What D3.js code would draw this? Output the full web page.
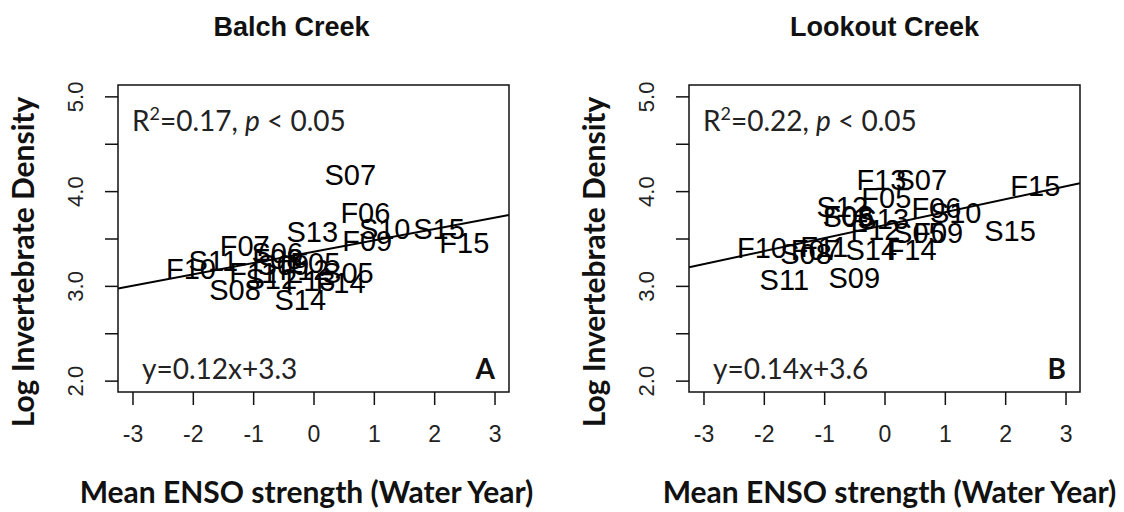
<!DOCTYPE html>
<html>
<head>
<meta charset="utf-8">
<script src="https://cdn.jsdelivr.net/npm/d3@7"></script>
<style>
  body { margin: 0; background: #fff; }
  svg { display: block; }
</style>
</head>
<body>
<div id="chart"></div>
<script>
// sample labels (season + year) and their values
const samples = ['F05','F06','F07','F08','F09','F10','F11','F12','F13','F14','F15',
                 'S05','S06','S07','S08','S09','S10','S11','S12','S13','S14','S15']
const ensoStrength = [0.03, 0.86, -1.14, -0.6, 0.89, -2.03, -1.0, -0.15, -0.05, 0.45, 2.5,
                      0.57, -0.6, 0.61, -1.3, -0.5, 1.18, -1.66, -0.7, -0.02, -0.22, 2.08]
const densityBalch = [3.25, 3.77, 3.43, 3.29, 3.48, 3.18, 3.14, 3.17, 3.06, 3.03, 3.46,
                      3.14, 3.35, 4.18, 2.96, 3.23, 3.60, 3.27, 3.08, 3.57, 2.86, 3.61]
const densityLookout = [3.93, 3.83, 3.38, 3.74, 3.56, 3.40, 3.41, 3.59, 4.12, 3.38, 4.06,
                        3.56, 3.73, 4.12, 3.34, 3.09, 3.77, 3.07, 3.84, 3.71, 3.38, 3.58]

const panelTitles = ['Balch Creek', 'Lookout Creek']
const panelLetters = ['A', 'B']
const fitSlope = [0.12, 0.137]
const fitIntercept = [3.36, 3.64]
const rSquared = ['0.17', '0.22']
const equations = ['y=0.12x+3.3', 'y=0.14x+3.6']

const xTicks = [-3, -2, -1, 0, 1, 2, 3]
const yTicks = [2, 2.5, 3, 3.5, 4, 4.5, 5]
const yTickLabels = ['2.0', '', '3.0', '', '4.0', '', '5.0']

const width = 1124
const height = 512

const svg = d3.select('#chart')
  .append('svg')
  .attr('width', width)
  .attr('height', height)

const arial = 'Arial, "Liberation Sans", sans-serif'
const calibri = 'Lato, "Open Sans", sans-serif'

const panelLeft = [118, 689]
const titleShift = [-22, 0]
const xLabelShift = [-7, 5]
const plotW = 391
const plotTop = 85
const plotBottom = 392

const drawPanel = (p, density) => {
  const x = d3.scaleLinear().domain([-3.24, 3.24]).range([panelLeft[p], panelLeft[p] + plotW])
  const y = d3.scaleLinear().domain([1.88, 5.12]).range([plotBottom, plotTop])
  const g = svg.append('g')

  const clipId = 'clip' + p
  g.append('clipPath').attr('id', clipId)
    .append('rect')
    .attr('x', x.range()[0]).attr('y', plotTop)
    .attr('width', plotW).attr('height', plotBottom - plotTop)

  // x axis
  const xAxis = g.append('g')
    .attr('transform', `translate(0,${plotBottom})`)
    .call(d3.axisBottom(x).tickValues(xTicks).tickSize(13).tickPadding(21).tickFormat(d3.format('d')))
  xAxis.select('.domain').remove()
  xAxis.selectAll('line').attr('stroke', '#111').attr('stroke-width', 1.5)
  xAxis.selectAll('text')
    .attr('font-family', arial).attr('font-size', 23).attr('fill', '#222')
    .text(d => d < 0 ? '-' + Math.abs(d) : d)

  // y axis
  const yAxis = g.append('g')
    .attr('transform', `translate(${x.range()[0]},0)`)
    .call(d3.axisLeft(y).tickValues(yTicks).tickSize(13).tickFormat((d, i) => yTickLabels[i]))
  yAxis.select('.domain').remove()
  yAxis.selectAll('line').attr('stroke', '#111').attr('stroke-width', 1.5)
  yAxis.selectAll('text')
    .attr('font-family', arial).attr('font-size', 22).attr('fill', '#222')
    .attr('text-anchor', 'middle')
    .attr('dy', 0)
    .attr('x', 0).attr('y', 0)
    .attr('transform', 'translate(-43,0) rotate(-90)')
    .attr('dominant-baseline', 'central')

  // fitted line
  g.append('line')
    .attr('clip-path', `url(#${clipId})`)
    .attr('x1', x(-3.24)).attr('y1', y(fitIntercept[p] + fitSlope[p] * -3.24))
    .attr('x2', x(3.24)).attr('y2', y(fitIntercept[p] + fitSlope[p] * 3.24))
    .attr('stroke', '#000').attr('stroke-width', 2)

  // sample labels
  g.append('g')
    .selectAll('text')
    .data(samples)
    .join('text')
    .attr('x', (d, i) => x(ensoStrength[i]))
    .attr('y', (d, i) => y(density[i]))
    .attr('dy', '0.36em')
    .attr('text-anchor', 'middle')
    .attr('font-family', arial)
    .attr('font-size', 29)
    .attr('fill', '#000')
    .text(d => d)

  // frame
  g.append('rect')
    .attr('x', x.range()[0]).attr('y', plotTop)
    .attr('width', plotW).attr('height', plotBottom - plotTop)
    .attr('fill', 'none').attr('stroke', '#111').attr('stroke-width', 1.5)

  // annotations
  const r2 = g.append('text')
    .attr('x', x.range()[0] + 14).attr('y', 131)
    .attr('font-family', calibri).attr('font-size', 28).attr('fill', '#222')
  r2.append('tspan').text('R')
  r2.append('tspan').attr('font-size', 18).attr('dy', -11).text('2')
  r2.append('tspan').attr('dy', 11).text('=' + rSquared[p] + ', ')
  r2.append('tspan').attr('font-style', 'italic').text('p')
  r2.append('tspan').text(' < 0.05')

  g.append('text')
    .attr('x', x.range()[0] + 24).attr('y', 379)
    .attr('font-family', calibri).attr('font-size', 28).attr('fill', '#222')
    .text(equations[p])

  g.append('text')
    .attr('x', x.range()[1] - 14).attr('y', 379)
    .attr('text-anchor', 'end')
    .attr('font-family', calibri).attr('font-size', 28).attr('font-weight', 'bold').attr('fill', '#111')
    .text(panelLetters[p])

  // titles
  g.append('text')
    .attr('x', x(0) + titleShift[p]).attr('y', 36)
    .attr('text-anchor', 'middle')
    .attr('font-family', arial).attr('font-size', 27).attr('font-weight', 'bold').attr('fill', '#111')
    .text(panelTitles[p])

  g.append('text')
    .attr('x', x(0) + xLabelShift[p]).attr('y', 503)
    .attr('text-anchor', 'middle')
    .attr('font-family', calibri).attr('font-size', 30).attr('font-weight', 'bold').attr('fill', '#111')
    .text('Mean ENSO strength (Water Year)')

  g.append('text')
    .attr('transform', `translate(${x.range()[0] - 96},262) rotate(-90)`)
    .attr('text-anchor', 'middle')
    .attr('dominant-baseline', 'central')
    .attr('font-family', calibri).attr('font-size', 30).attr('font-weight', 'bold').attr('fill', '#111')
    .text('Log Invertebrate Density')
}

drawPanel(0, densityBalch)
drawPanel(1, densityLookout)
</script>
</body>
</html>
